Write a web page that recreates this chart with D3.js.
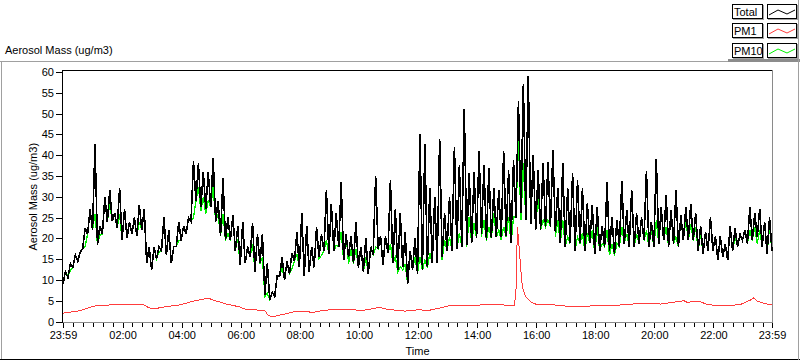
<!DOCTYPE html>
<html><head><meta charset="utf-8">
<script src="https://cdn.jsdelivr.net/npm/d3@7"></script>
<style>
body{margin:0;background:#fff;}
svg{display:block;font-family:"Liberation Sans",Arial,sans-serif;}
</style></head><body>
<svg id="chart" width="800" height="361"></svg>
<script>
// ---- data (10-minute buckets: low then high reading within each bucket) ----
const bucketMinutes = 10;
const totalLo = [9,10.5,13,14.5,17.5,21,22,18.5,21,24,
24.2,22.5,19.5,20,21,20.5,22,14,12.3,15,
17,16,14,18,19.5,21,24,29,27.5,27,
27.5,24,20.5,19.5,19.5,17,13.5,14,15.5,12,
14,6.5,5.2,6,10.8,10,11.5,14.5,13,11,
12,13,15.5,17,16.3,17,18,14.7,15.5,14,
13,12,11.5,16,17.5,13.5,16.5,14,12.3,13,
9,12.5,11.5,12.3,13,14,14,15.5,17,17,
17.5,18,18.5,18.8,20,21,19.5,20,20.3,20.3,
20.5,19,25,26,24.5,23.5,22,22,22.8,22.8,
21.5,18.8,18,18.8,17,18.8,17,18.8,16.3,17,
18,17,16.3,18,18.7,18,18,18.7,19.5,18,
18,18.7,19.5,18,18.7,18,19.5,19.5,19.5,17,
16.3,17,17,14.7,15.5,14.7,17,18,19.5,18.7,
19.5,20.3,18,16.3,17];
const totalHi = [12,14,16,16.7,22.5,27,42.6,23,30,31.5,
26,32,27,24,25,28,27,18,18,18,
25,22,18,24,23,25,38.6,38,36,36,
39.4,29,34.5,25,25.5,23,24,18,23.7,21,
21,14,7,11,15.5,14.5,16.5,21.5,26,23,
18,22.7,21,31.6,28.3,26,33.5,21,20.5,24,
18,20,18,35,20.5,20.5,34,27,26,21.5,
17,20,45,42.8,32,30,44,26,30,42,
37.6,51,35.6,36,41,37.6,37,32,31.6,41,
36.4,38.8,53,57,59,40,36.4,38,38.4,41.2,
32,38,32,35.6,34,32,28.4,28,27.5,23,
33.5,25,24.5,33.9,26.7,31.6,26,25,36.3,24,
39,27.5,30.3,26.7,31.5,25.5,27.5,28.3,26,23,
21.5,25,20.5,20.5,18.7,23,22.5,21,22,27.5,
26,27,24,25];
const pm10Lo = [9,10.8,13,14.5,17.5,21,22,18.5,21,24,
24.2,22.5,19.5,20,21,20.5,22,14,12.3,15,
17,16,14,18,19.5,21,24,29,26.7,25.9,
27.5,24,20.5,19.5,19.5,17,13.5,14,15.5,12,
13.9,6,5.2,6,10.8,10,11.5,14.5,13,11,
12,13,15.1,17,16.3,17,18,14.7,13.9,13.9,
13,12,11.5,16,17.5,13.5,16.5,14,12,12.4,
9,12.5,11.5,12.3,13,14,14,14.8,17,17,
17.5,18,18,18.8,20,20.4,19.5,20,20.3,19.6,
20.4,18.8,25,24.4,24.5,23.5,22,22,22.8,22.8,
20.4,18.8,18,18.8,17,18.8,17,18.8,16.3,17,
18,15.9,15.9,18,18.7,18,18,18.7,19.5,18,
18,18.7,19.5,18,18.7,18,19.5,19.5,19.5,17,
16.3,17,17,14.7,15.5,14.7,17,18,19.5,18.7,
19.5,18.7,18,16.3,17];
const pm10Hi = [12,12.3,16,16.7,18,27,25.9,20.7,30,28.3,
26,25.9,27,24,25,23.9,27,18,18,16.7,
25,22,18,19.5,23,25,25,32.3,29.9,29,
32.3,25.9,25.9,21.1,25.5,19.9,24,18,18.7,21,
15.5,6.8,7,11,13.1,14.5,12.7,16.3,26,23,
18,22.7,15.9,19.5,28.3,18.3,21.5,21,17.5,17.5,
18,15.5,18,17.9,20.5,20.5,18.7,15.5,13.1,13.9,
17,15.5,15.6,14.8,16.4,30,44,19.6,20.4,42,
21.2,51,25.2,23.6,41,24.4,22.8,26,22,22.8,
25.2,25.2,44.4,38,59,40,30.8,24.4,24.4,41.2,
24.4,24.4,20.4,35.6,20.4,21.2,21.2,22,22.7,18.7,
21.9,18.7,18.7,22.7,21.1,31.6,21.1,25,21.9,22.3,
24.3,27.5,22.7,26.7,20.3,25.5,24.3,23.5,22.7,21.1,
21.5,25,20.5,20.5,18.7,23,20.3,21,22,21.9,
22.7,21.9,24,22.7];
const pm1Minutes = [0,35,55,62,109,163,173,183,210,238,265,295,312,332,359,369,410,416,423,443,471,497,504,525,559,585,606,626,643,660,694,721,744,771,785,818,852,886,917,920,923,927,930,933,940,950,960,988,1022,1055,1083,1112,1146,1180,1214,1261,1268,1282,1295,1309,1322,1349,1376,1397,1402,1410,1417,1430,1440];
const pm1Values = [2.0,2.6,3.4,3.7,4.1,4.1,3.4,3.0,3.6,4.0,4.9,5.6,4.9,4.2,3.5,3.0,2.6,1.6,1.1,1.6,2.4,2.5,2.1,2.6,3.0,2.9,2.6,3.0,3.4,2.9,2.5,2.8,2.7,3.4,3.8,3.8,4.0,4.0,3.9,7.5,22.8,17,12.3,8.3,5.9,4.7,4.2,4.1,3.7,3.5,3.9,3.8,4.1,4.4,4.2,5.0,4.6,4.8,4.7,4.1,3.9,3.8,4.1,5.2,5.7,4.9,4.6,4.2,4.1];
const yTicks = [0,5,10,15,20,25,30,35,40,45,50,55,60];
const xTickMinutes = [0,121,241,361,481,601,721,841,961,1081,1201,1321,1440];
const xTickLabels = ["23:59","02:00","04:00","06:00","08:00","10:00","12:00","14:00","16:00","18:00","20:00","22:00","23:59"];
const legendNames = ["Total","PM1","PM10"];
const legendColors = ["#000000","#ff3c3c","#00f000"];

// ---- layout ----
const svg = d3.select("#chart");
const pLeft = 63, pRight = 772, pTop = 72, pBottom = 321.5;
const x = d3.scaleLinear().domain([0,1440]).range([pLeft,pRight]);
const y = d3.scaleLinear().domain([0,60]).range([pBottom,pTop]);

// outer panel frame
const outer = svg.append("g").attr("shape-rendering","crispEdges");
outer.append("line").attr("x1",0).attr("x2",728).attr("y1",61.5).attr("y2",61.5).attr("stroke","#a0a0a0");
outer.append("rect").attr("x",728).attr("y",59).attr("width",72).attr("height",3).attr("fill","#8c8c8c");
outer.append("line").attr("x1",1.5).attr("x2",1.5).attr("y1",61).attr("y2",360).attr("stroke","#a0a0a0");
outer.append("line").attr("x1",0).attr("x2",800).attr("y1",359.5).attr("y2",359.5).attr("stroke","#000");
outer.append("line").attr("x1",798.5).attr("x2",798.5).attr("y1",0).attr("y2",360).attr("stroke","#a0a0a0");

// title
svg.append("text").attr("x",5).attr("y",54).attr("font-size",11).attr("fill","#000").text("Aerosol Mass (ug/m3)");

// plot frame
const frame = svg.append("g").attr("shape-rendering","crispEdges");
frame.append("line").attr("x1",pLeft).attr("x2",pRight).attr("y1",70.5).attr("y2",70.5).attr("stroke","#000");
frame.append("line").attr("x1",pRight+0.5).attr("x2",pRight+0.5).attr("y1",70).attr("y2",323).attr("stroke","#8a8a8a");
frame.append("line").attr("x1",pLeft).attr("x2",pRight+1).attr("y1",322.5).attr("y2",322.5).attr("stroke","#8a8a8a");
frame.append("line").attr("x1",pLeft-0.5).attr("x2",pLeft-0.5).attr("y1",70).attr("y2",323).attr("stroke","#000");

// series
const line = d3.line().x(d=>x(d[0])).y(d=>y(d[1]));
function zig(lo, hi){
  const pts = [];
  for(let i=0;i<hi.length;i++){
    pts.push([i*bucketMinutes, lo[i]]);
    pts.push([i*bucketMinutes+bucketMinutes/2, hi[i]]);
  }
  pts.push([hi.length*bucketMinutes, lo[hi.length]]);
  return pts;
}
const plot = svg.append("g").attr("shape-rendering","crispEdges");
plot.append("path").datum(zig(pm10Lo,pm10Hi)).attr("d",line).attr("fill","none")
  .attr("stroke",legendColors[2]).attr("stroke-width",1.3);
plot.append("path").datum(pm1Minutes.map((m,i)=>[m,pm1Values[i]])).attr("d",line).attr("fill","none")
  .attr("stroke",legendColors[1]).attr("stroke-width",1);
plot.append("path").datum(zig(totalLo,totalHi)).attr("d",line).attr("fill","none")
  .attr("stroke",legendColors[0]).attr("stroke-width",1.6);

// y axis
const yAxis = d3.axisLeft(y).tickValues(yTicks).tickSize(6).tickPadding(2).tickFormat(d3.format("d"));
const gy = svg.append("g").attr("transform",`translate(${pLeft-1},0)`).call(yAxis);
gy.select(".domain").remove();
gy.selectAll("line").attr("stroke","#000").attr("shape-rendering","crispEdges");
gy.selectAll("text").attr("font-size",11).attr("font-family","Liberation Sans, Arial").attr("fill","#000");

// x axis: minor ticks every 20 min
const minor = d3.range(1,1440,20).filter(m=>!xTickMinutes.includes(m));
const gxm = svg.append("g").attr("transform",`translate(0,${pBottom+1.5})`)
  .call(d3.axisBottom(x).tickValues(minor).tickSize(4).tickFormat(""));
gxm.select(".domain").remove();
gxm.selectAll("line").attr("stroke","#000").attr("shape-rendering","crispEdges");
const gx = svg.append("g").attr("transform",`translate(0,${pBottom+1.5})`)
  .call(d3.axisBottom(x).tickValues(xTickMinutes).tickSize(5).tickPadding(3).tickFormat((d,i)=>xTickLabels[i]));
gx.select(".domain").remove();
gx.selectAll("line").attr("stroke","#000").attr("shape-rendering","crispEdges");
gx.selectAll("text").attr("font-size",11).attr("font-family","Liberation Sans, Arial").attr("fill","#000");

// axis titles
svg.append("text").attr("x",(pLeft+pRight)/2).attr("y",355).attr("text-anchor","middle").attr("font-size",11).text("Time");
svg.append("text").attr("transform",`translate(37,${(pTop+pBottom)/2}) rotate(-90)`).attr("text-anchor","middle")
  .attr("font-size",11).text("Aerosol Mass (ug/m3)");

// legend
const lg = svg.append("g").attr("shape-rendering","crispEdges");
legendNames.forEach((name,i)=>{
  const ty = 4 + i*19.3;
  const row = lg.append("g").attr("transform",`translate(0,${Math.round(ty)})`);
  row.append("rect").attr("x",732.5).attr("y",0.5).attr("width",30).attr("height",14).attr("fill","#fff").attr("stroke","#000");
  row.append("line").attr("x1",733).attr("x2",764).attr("y1",15.5).attr("y2",15.5).attr("stroke","#a0a0a0");
  row.append("line").attr("x1",763.5).attr("x2",763.5).attr("y1",1).attr("y2",16).attr("stroke","#a0a0a0");
  row.append("text").attr("x",734).attr("y",12).attr("font-size",11).attr("shape-rendering","auto").text(name);
  row.append("rect").attr("x",767.5).attr("y",0.5).attr("width",29).attr("height",14).attr("fill","#fff").attr("stroke","#000");
  row.append("line").attr("x1",768).attr("x2",798).attr("y1",15.5).attr("y2",15.5).attr("stroke","#a0a0a0");
  row.append("line").attr("x1",797.5).attr("x2",797.5).attr("y1",1).attr("y2",16).attr("stroke","#a0a0a0");
  row.append("path").attr("d","M769,11 L778,6 L787,10 L795,6").attr("fill","none")
    .attr("stroke",legendColors[i]).attr("shape-rendering","auto");
});
</script>
</body></html>
